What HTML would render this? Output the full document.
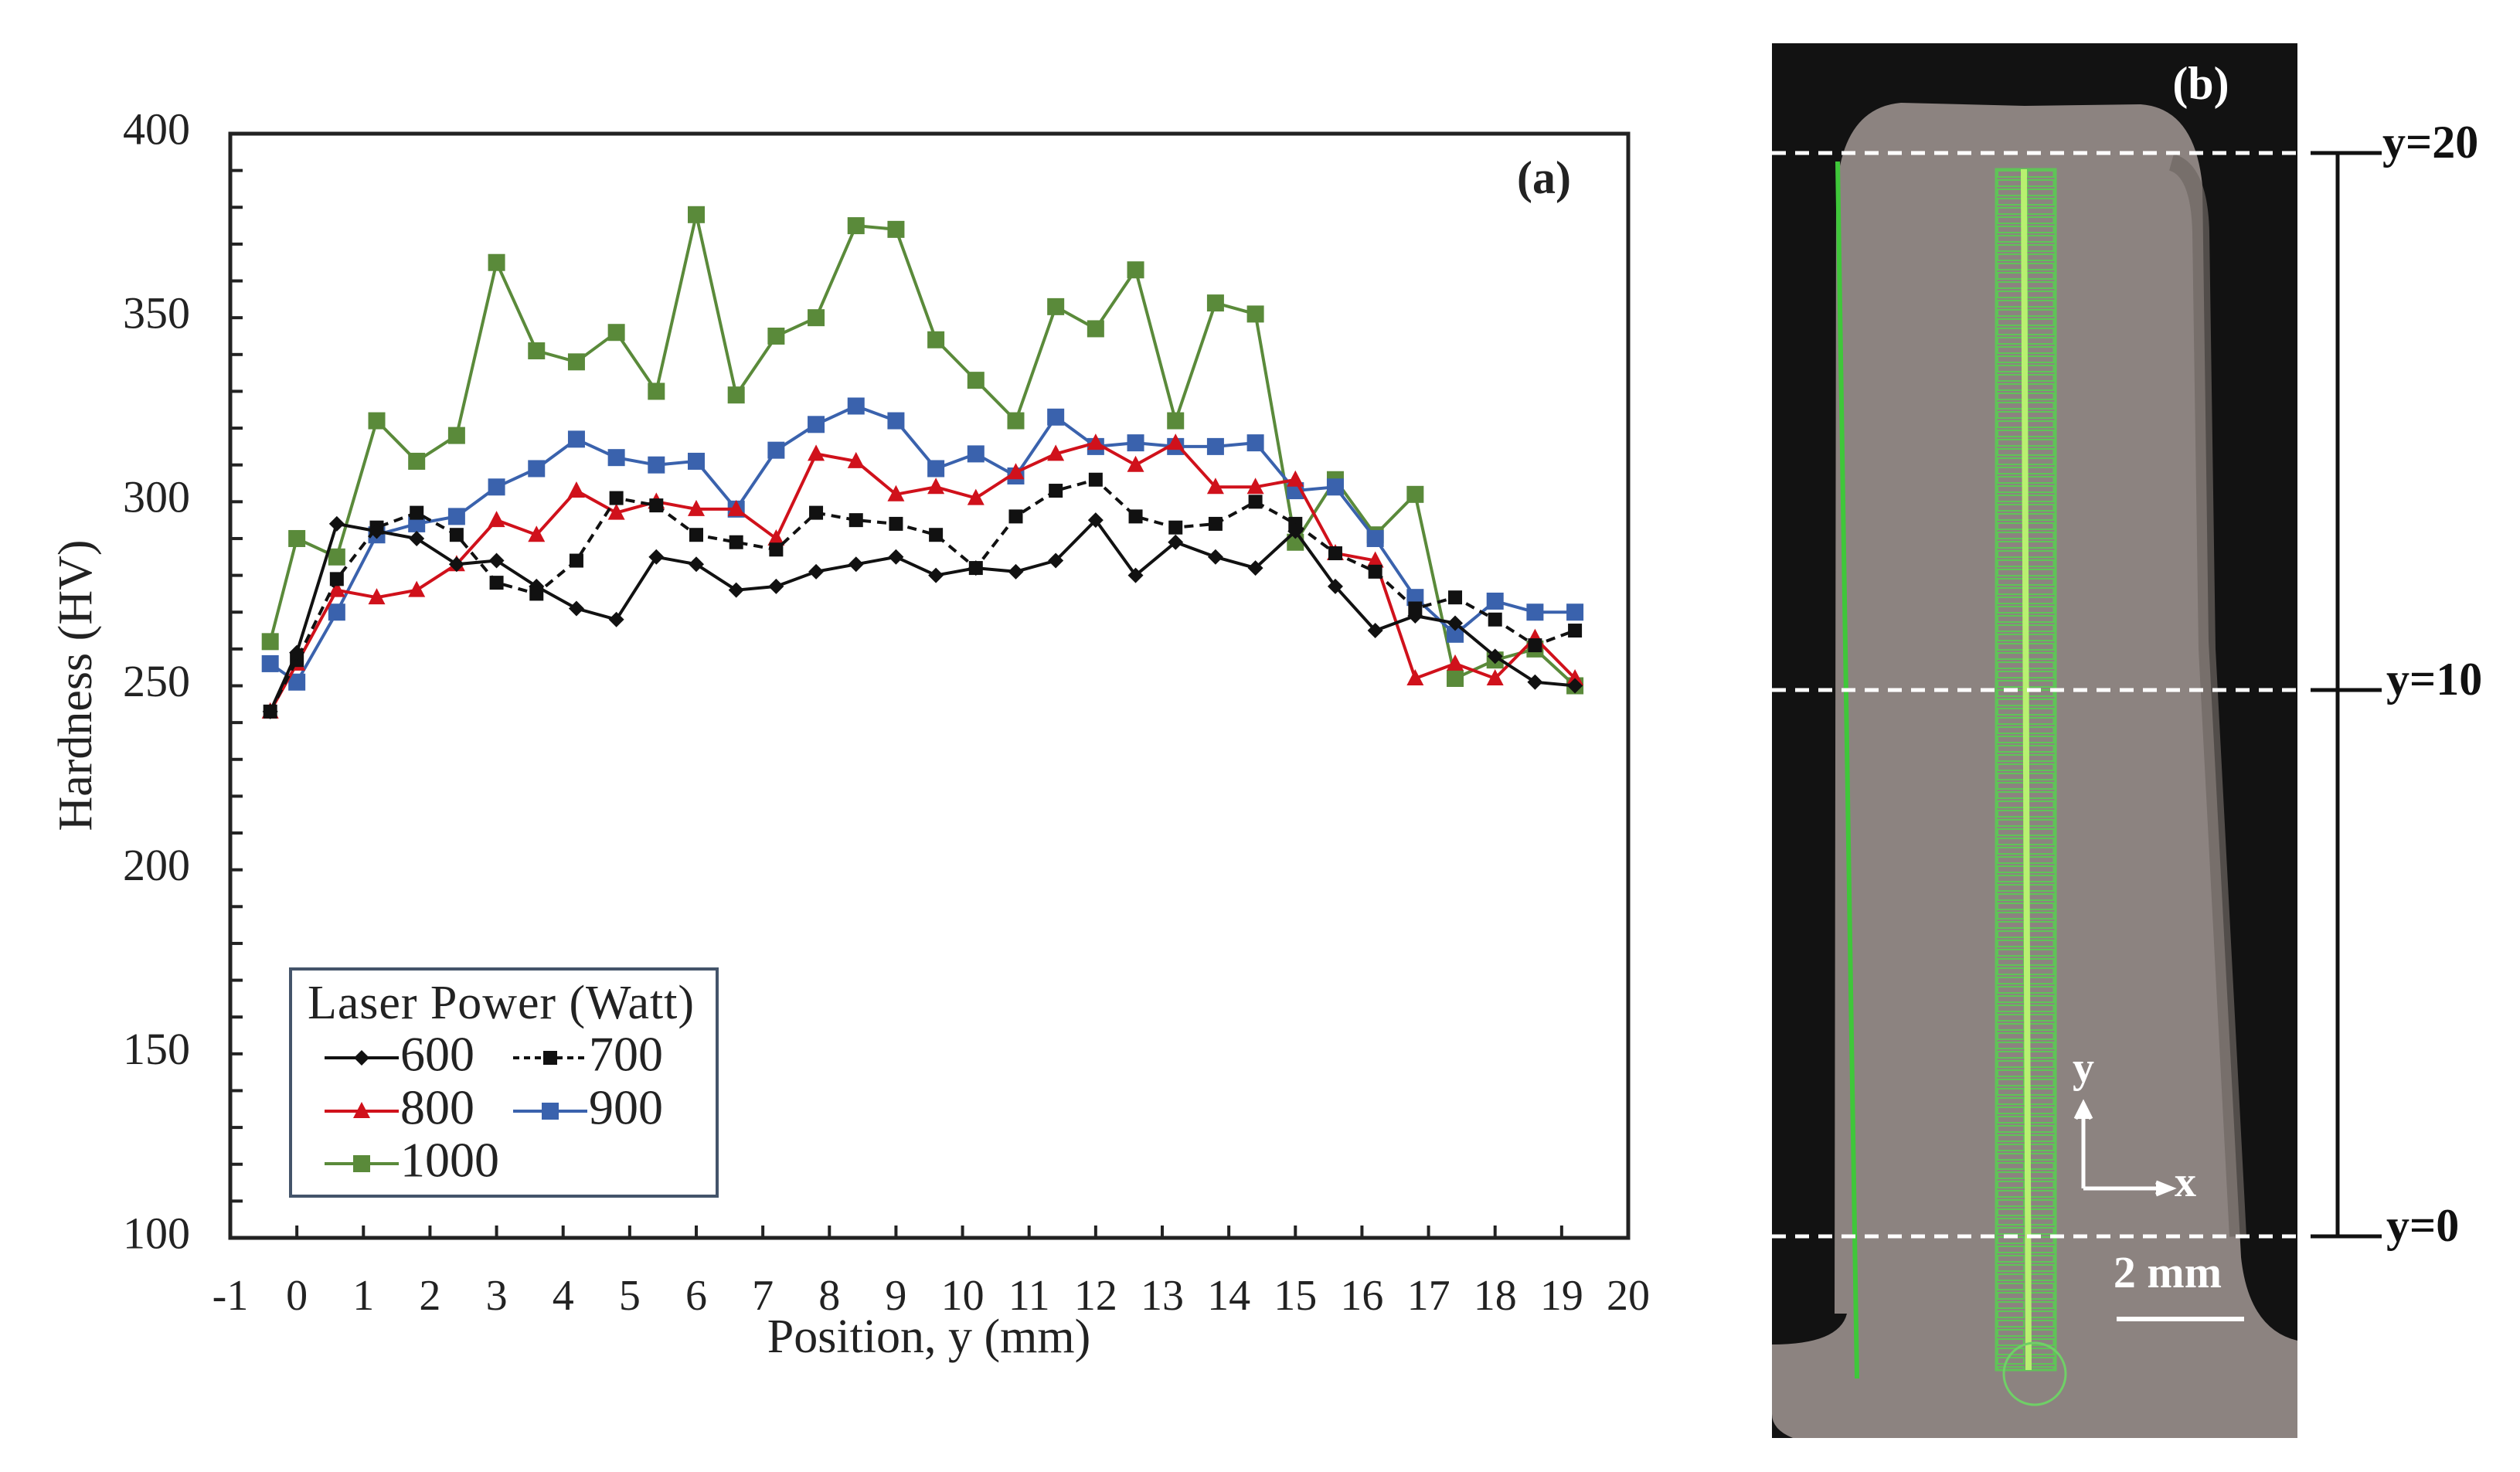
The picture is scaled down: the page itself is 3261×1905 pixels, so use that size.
<!DOCTYPE html>
<html><head><meta charset="utf-8">
<style>
html,body{margin:0;padding:0;background:#fff;}
svg{display:block;font-family:"Liberation Serif",serif;}
</style></head>
<body>
<svg id="fig" width="3261" height="1905" viewBox="0 0 3261 1905" xmlns="http://www.w3.org/2000/svg">
  <rect x="0" y="0" width="3261" height="1905" fill="#fff"/>
  <g id="chart"></g>
  <g id="legend">
    <rect x="376" y="1254" width="552" height="294" fill="#fff" stroke="#44546a" stroke-width="4"/>
    <text x="398" y="1318" font-size="62" fill="#222" textLength="500">Laser Power (Watt)</text>
  </g>
  <g id="photo">
    <rect x="2293" y="56" width="680" height="1805" fill="#121212"/>
    <path d="M2374 1700 L2376 260 Q2380 140 2460 133 L2620 137 L2770 135 Q2840 140 2850 240 L2858 830 L2900 1627 Q2910 1720 2973 1735 L2973 1861 L2320 1861 Q2293 1850 2293 1830 L2293 1740 Q2380 1740 2390 1700 Z" fill="#8c8380"/>
    <path d="M2810 210 Q2846 220 2848 300 L2856 840 L2896 1600" fill="none" stroke="#6e6663" stroke-width="22" opacity="0.7"/>
    <line x1="2378" y1="209" x2="2403" y2="1784" stroke="#3fc73a" stroke-width="6"/>
    <rect x="2583" y="219" width="77" height="1554" fill="none" stroke="#5fc457" stroke-width="3"/>
    <rect x="2583" y="219" width="77" height="1554" fill="url(#gridpat)"/>
    <line x1="2619" y1="219" x2="2625" y2="1773" stroke="#b8f070" stroke-width="8"/>
    <circle cx="2633" cy="1778" r="40" fill="none" stroke="#6fd066" stroke-width="3"/>
    <text x="2848" y="128" font-size="60" font-weight="bold" fill="#fff" text-anchor="middle">(b)</text>
    <g stroke="#fff" stroke-width="5" stroke-dasharray="18 12">
      <line x1="2293" y1="198" x2="2990" y2="198"/>
      <line x1="2293" y1="893" x2="2990" y2="893"/>
      <line x1="2293" y1="1600" x2="2990" y2="1600"/>
    </g>
    <g stroke="#fff" stroke-width="5" fill="none">
      <line x1="2696" y1="1538" x2="2696" y2="1432"/>
      <line x1="2696" y1="1538" x2="2806" y2="1538"/>
      <path d="M2686 1448 L2696 1428 L2706 1448" fill="#fff"/>
      <path d="M2790 1530 L2810 1538 L2790 1546" fill="#fff"/>
    </g>
    <text x="2696" y="1400" font-size="56" font-weight="bold" fill="#fff" text-anchor="middle">y</text>
    <text x="2828" y="1548" font-size="56" font-weight="bold" fill="#fff" text-anchor="middle">x</text>
    <text x="2805" y="1666" font-size="58" font-weight="bold" fill="#fff" text-anchor="middle">2 mm</text>
    <line x1="2739" y1="1707" x2="2904" y2="1707" stroke="#fff" stroke-width="6"/>
  </g>
  <g stroke="#111" stroke-width="5">
    <line x1="2990" y1="198" x2="3082" y2="198"/>
    <line x1="2990" y1="893" x2="3082" y2="893"/>
    <line x1="2990" y1="1600" x2="3082" y2="1600"/>
    <line x1="3025" y1="198" x2="3025" y2="1600"/>
  </g>
  <text x="3083" y="190" font-size="60" font-weight="bold" fill="#111" dominant-baseline="middle">y=20</text>
  <text x="3088" y="885" font-size="60" font-weight="bold" fill="#111" dominant-baseline="middle">y=10</text>
  <text x="3088" y="1592" font-size="60" font-weight="bold" fill="#111" dominant-baseline="middle">y=0</text>
  <defs>
    <pattern id="gridpat" x="2583" y="219" width="38.5" height="12" patternUnits="userSpaceOnUse">
      <rect x="2" y="2" width="34" height="8" fill="none" stroke="#5fc457" stroke-width="2"/>
    </pattern>
  </defs>
</svg>
<script>
const positions = [-0.4,0,0.6,1.2,1.8,2.4,3.0,3.6,4.2,4.8,5.4,6.0,6.6,7.2,7.8,8.4,9.0,9.6,10.2,10.8,11.4,12.0,12.6,13.2,13.8,14.4,15.0,15.6,16.2,16.8,17.4,18.0,18.6,19.2];
const hv600 = [243,259,294,292,290,283,284,277,271,268,285,283,276,277,281,283,285,280,282,281,284,295,280,289,285,282,292,277,265,269,267,258,251,250];
const hv700 = [243,257,279,293,297,291,278,275,284,301,299,291,289,287,297,295,294,291,282,296,303,306,296,293,294,300,294,286,281,271,274,268,261,265];
const hv800 = [243,256,276,274,276,283,295,291,303,297,300,298,298,290,313,311,302,304,301,308,313,316,310,316,304,304,306,286,284,252,256,252,263,252];
const hv900 = [256,251,270,291,294,296,304,309,317,312,310,311,298,314,321,326,322,309,313,307,323,315,316,315,315,316,303,304,290,274,264,273,270,270];
const hv1000 = [262,290,285,322,311,318,365,341,338,346,330,378,329,345,350,375,374,344,333,322,353,347,363,322,354,351,289,306,291,302,252,257,260,250];
const xTicks = [-1,0,1,2,3,4,5,6,7,8,9,10,11,12,13,14,15,16,17,18,19,20];
const yTicks = [100,150,200,250,300,350,400];

const NS = "http://www.w3.org/2000/svg";
const L = 298, R = 2107, T = 173, B = 1602;
const xMin = -1, xMax = 20, yMin = 100, yMax = 400;
function sx(v){ return L + (v - xMin) / (xMax - xMin) * (R - L); }
function sy(v){ return B - (v - yMin) / (yMax - yMin) * (B - T); }
function mk(tag, attrs, parent){
  const e = document.createElementNS(NS, tag);
  for (const k in attrs) e.setAttribute(k, attrs[k]);
  parent.appendChild(e);
  return e;
}
const chart = document.getElementById('chart');

for (let v = yMin + 10; v < yMax; v += 10) {
  const t = mk('line', {x1: L, x2: L + 16, y1: sy(v), y2: sy(v), stroke: '#222', 'stroke-width': 4}, chart);
  
  
}
yTicks.forEach(v => {
  const t = mk('text', {x: 246, y: sy(v), 'font-size': 58, 'text-anchor': 'end', 'dominant-baseline': 'middle', fill: '#222'}, chart);
  t.textContent = v;
  
  
});
xTicks.forEach(v => {
  if (v > xMin && v < xMax) {
    const t = mk('line', {x1: sx(v), x2: sx(v), y1: B, y2: B - 16, stroke: '#222', 'stroke-width': 4}, chart);
    
    
  }
  const lb = mk('text', {x: sx(v), y: 1682, 'font-size': 56, 'text-anchor': 'middle', 'dominant-baseline': 'middle', fill: '#222'}, chart);
  lb.textContent = v;
  
  
});
const frame = mk('rect', {x: L, y: T, width: R - L, height: B - T, fill: 'none', stroke: '#222', 'stroke-width': 5}, chart);



const xt = mk('text', {x: 1202, y: 1736, 'font-size': 62, 'text-anchor': 'middle', 'dominant-baseline': 'middle', fill: '#222'}, chart);
xt.textContent = 'Position, y (mm)';


const yt = mk('text', {x: 0, y: 0, 'font-size': 62, 'text-anchor': 'middle', 'dominant-baseline': 'middle', fill: '#222', transform: 'translate(104,887) rotate(-90)'}, chart);
yt.textContent = 'Hardness (HV)';


const pa = mk('text', {x: 1998, y: 236, 'font-size': 60, 'font-weight': 'bold', 'text-anchor': 'middle', 'dominant-baseline': 'middle', fill: '#222'}, chart);
pa.textContent = '(a)';



function marker(parent, type, x, y, color){
  let m;
  if (type === 'square') m = mk('rect', {x: x - 11, y: y - 11, width: 22, height: 22, fill: color}, parent);
  else if (type === 'smallsquare') m = mk('rect', {x: x - 9, y: y - 9, width: 18, height: 18, fill: color}, parent);
  else if (type === 'diamond') m = mk('path', {d: `M${x} ${y-10} L${x+10} ${y} L${x} ${y+10} L${x-10} ${y} Z`, fill: color}, parent);
  else m = mk('path', {d: `M${x} ${y-12} L${x+11} ${y+9} L${x-11} ${y+9} Z`, fill: color}, parent);
  return m;
}
const seriesDefs = [
  {name: '1000', vals: hv1000, color: '#5a8a3a', marker: 'square', dash: ''},
  {name: '900', vals: hv900, color: '#3a62ad', marker: 'square', dash: ''},
  {name: '800', vals: hv800, color: '#d0111b', marker: 'triangle', dash: ''},
  {name: '700', vals: hv700, color: '#111', marker: 'smallsquare', dash: '12 8'},
  {name: '600', vals: hv600, color: '#111', marker: 'diamond', dash: ''}
];
seriesDefs.forEach(s => {
  const g = mk('g', {}, chart);
  
  
  const pts = s.vals.map((v, i) => sx(positions[i]).toFixed(1) + ',' + sy(v).toFixed(1)).join(' ');
  const pl = mk('polyline', {points: pts, fill: 'none', stroke: s.color, 'stroke-width': 4, 'stroke-dasharray': s.dash}, g);
  
  
  s.vals.forEach((v, i) => {
    const m = marker(g, s.marker, sx(positions[i]), sy(v), s.color);
    
    
  });
});

const leg = document.getElementById('legend');
const legItems = [
  {label: '600', color: '#111', marker: 'diamond', dash: '', x: 420, y: 1369},
  {label: '700', color: '#111', marker: 'smallsquare', dash: '8 6', x: 664, y: 1369},
  {label: '800', color: '#d0111b', marker: 'triangle', dash: '', x: 420, y: 1438},
  {label: '900', color: '#3a62ad', marker: 'square', dash: '', x: 664, y: 1438},
  {label: '1000', color: '#5a8a3a', marker: 'square', dash: '', x: 420, y: 1506}
];
legItems.forEach(it => {
  const g = mk('g', {}, leg);
  
  
  mk('line', {x1: it.x, x2: it.x + 96, y1: it.y, y2: it.y, stroke: it.color, 'stroke-width': 4, 'stroke-dasharray': it.dash}, g);
  marker(g, it.marker, it.x + 48, it.y, it.color);
  const t = mk('text', {x: it.x + 98, y: it.y + 2, 'font-size': 64, 'dominant-baseline': 'middle', fill: '#222'}, g);
  t.textContent = it.label;
});
</script>
</body></html>
